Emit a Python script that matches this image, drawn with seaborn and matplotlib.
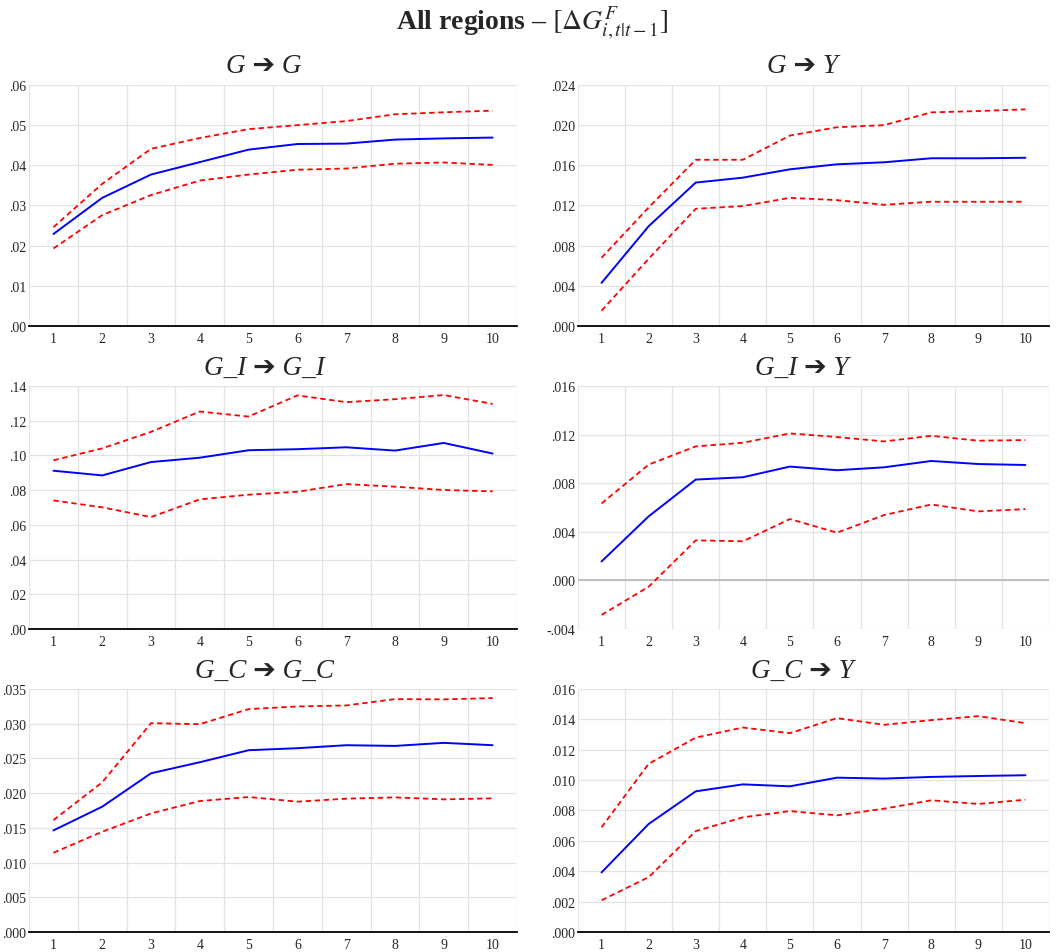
import numpy as np
import pandas as pd
import seaborn as sns
import matplotlib.pyplot as plt
from matplotlib.ticker import FuncFormatter, MultipleLocator

horizon = list(range(1, 11))

# G -> G
gg_mid = [.0229, .0319, .0377, .0408, .0439, .0453, .0454, .0464, .0467, .0469]
gg_hi = [.0246, .0354, .0441, .0468, .0490, .0500, .0510, .0527, .0532, .0536]
gg_lo = [.0193, .0276, .0326, .0362, .0377, .0389, .0392, .0404, .0407, .0401]

# G -> Y
gy_mid = [.00429, .00993, .01428, .01477, .0156, .0161, .0163, .0167, .0167, .01675]
gy_hi = [.00679, .0118, .01655, .01655, .01896, .01979, .0200, .02127, .0214, .02157]
gy_lo = [.00152, .00669, .01167, .01194, .01276, .01253, .01207, .01237, .01237, .01237]

# G_I -> G_I
gigi_mid = [.0912, .0885, .0962, .0987, .1030, .1036, .1047, .1028, .1072, .1011]
gigi_hi = [.0972, .1041, .1136, .1253, .1224, .1346, .1307, .1324, .1348, .1297]
gigi_lo = [.0741, .0701, .0645, .0747, .0774, .0791, .0835, .0820, .0801, .0793]

# G_I -> Y
giy_mid = [.00156, .00527, .0083, .00849, .00937, .00907, .00931, .00983, .00958, .0095]
giy_hi = [.00633, .00953, .01103, .01133, .0121, .0118, .01144, .0119, .0115, .01155]
giy_lo = [-.00284, -.00052, .0033, .00322, .00505, .00393, .00538, .00625, .00568, .00587]

# G_C -> G_C
gcgc_mid = [.01463, .01805, .02286, .02445, .02618, .02647, .0269, .0268, .02724, .0269]
gcgc_hi = [.01612, .02156, .03008, .02993, .0321, .03248, .03263, .03354, .0335, .03369]
gcgc_lo = [.01141, .01444, .01708, .01886, .01944, .01877, .0192, .01939, .0191, .01925]

# G_C -> Y
gcy_mid = [.00392, .00711, .00926, .00972, .00959, .01016, .0101, .01021, .01027, .01032]
gcy_hi = [.00689, .01107, .0128, .01346, .01309, .01408, .01364, .01395, .01421, .01375]
gcy_lo = [.00209, .00361, .00664, .00755, .00796, .00768, .00812, .00867, .00843, .00871]

panels = [
    ('G ➔ G', gg_mid, gg_hi, gg_lo, (0, .06), .01, 2),
    ('G ➔ Y', gy_mid, gy_hi, gy_lo, (0, .024), .004, 3),
    ('G_I ➔ G_I', gigi_mid, gigi_hi, gigi_lo, (0, .14), .02, 2),
    ('G_I ➔ Y', giy_mid, giy_hi, giy_lo, (-.004, .016), .004, 3),
    ('G_C ➔ G_C', gcgc_mid, gcgc_hi, gcgc_lo, (0, .035), .005, 3),
    ('G_C ➔ Y', gcy_mid, gcy_hi, gcy_lo, (0, .016), .002, 3),
]

sns.set_style('white')
plt.rcParams['font.family'] = ['Liberation Serif', 'DejaVu Sans']
plt.rcParams['mathtext.fontset'] = 'stix'

fig = plt.figure(figsize=(10.64, 9.53), dpi=100)

# axes boxes
lefts = [(0.0273, 0.4586), (0.5432, 0.4427)]
rows = [(0.6569, 0.2529), (0.3389, 0.2550), (0.0210, 0.2550)]
title_x = [0.482, 0.476]


def dot_fmt(ndec):
    def f(v, pos):
        s = f'{abs(v):.{ndec}f}'.lstrip('0')
        return ('-' if v < -1e-12 else '') + s
    return f


for i, (title, mid, hi, lo, ylim, step, ndec) in enumerate(panels):
    r, c = divmod(i, 2)
    ax = fig.add_axes([lefts[c][0], rows[r][0], lefts[c][1], rows[r][1]])
    df = pd.DataFrame({'h': horizon, 'mid': mid, 'hi': hi, 'lo': lo})
    sns.lineplot(data=df, x='h', y='hi', ax=ax, color='#ff0000', lw=1.3,
                 linestyle=(0, (3, 2)))
    sns.lineplot(data=df, x='h', y='lo', ax=ax, color='#ff0000', lw=1.3,
                 linestyle=(0, (3, 2)))
    sns.lineplot(data=df, x='h', y='mid', ax=ax, color='#0000ff', lw=1.4)

    ax.set_xlim(0.5, 10.5)
    ax.set_ylim(*ylim)
    ax.xaxis.set_major_locator(MultipleLocator(1))
    ax.xaxis.set_minor_locator(MultipleLocator(1, offset=0.5))
    ax.yaxis.set_major_locator(MultipleLocator(step))
    ax.yaxis.set_major_formatter(FuncFormatter(dot_fmt(ndec)))
    ax.grid(True, axis='y', which='major', color='#e3e3e3', lw=0.9)
    ax.grid(True, axis='x', which='minor', color='#e3e3e3', lw=0.9)
    ax.grid(False, axis='x', which='major')
    ax.tick_params(axis='y', which='major', length=0, labelsize=10, pad=2)
    ax.tick_params(axis='x', which='major', length=0, labelsize=10, pad=4)
    ax.tick_params(axis='x', which='minor', length=0)
    for s in ['top', 'right', 'left']:
        ax.spines[s].set_visible(False)
    if ylim[0] < 0:
        ax.spines['bottom'].set_visible(False)
        ax.axhline(0, color='#b5b5b5', lw=1.2, zorder=1)
    else:
        ax.spines['bottom'].set_color('black')
        ax.spines['bottom'].set_linewidth(1.3)
    ax.set_xlabel('')
    ax.set_ylabel('')
    ax.set_title(title, fontsize=19.5, style='italic', pad=9, x=title_x[c])

fig.suptitle(r'All regions – $[\Delta G^{F}_{i,t|t-1}]$', fontsize=20,
             fontweight='bold', y=0.995)

fig.savefig('out.png', dpi=100)
